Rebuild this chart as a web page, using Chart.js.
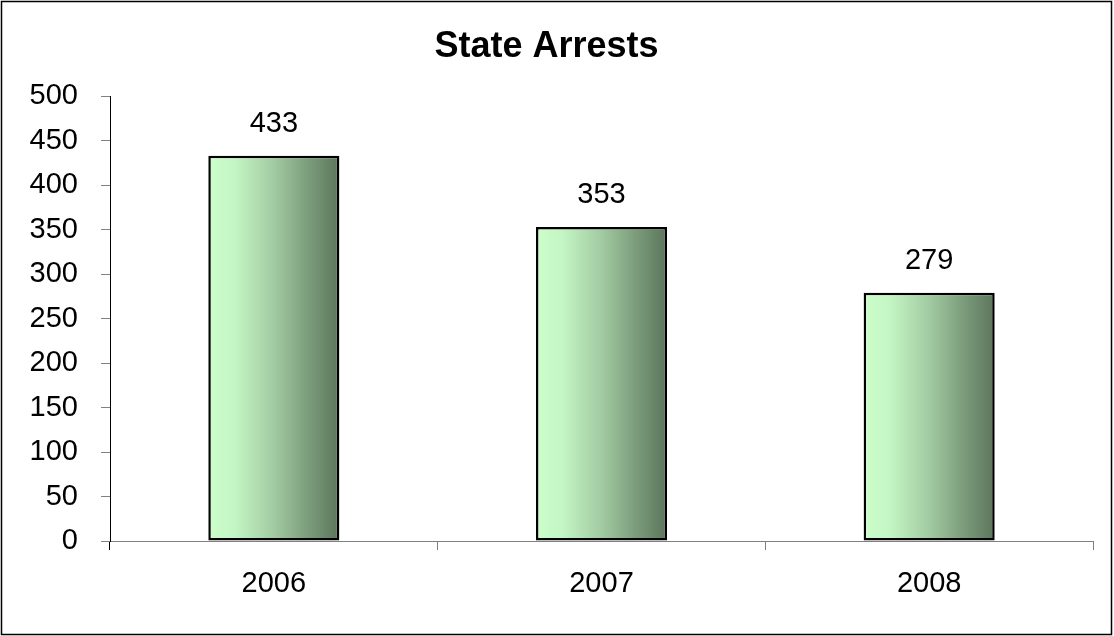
<!DOCTYPE html>
<html>
<head>
<meta charset="utf-8">
<title>State Arrests</title>
<script src="https://cdn.jsdelivr.net/npm/chart.js@4.4.1/dist/chart.umd.min.js"></script>
<style>
    html, body { margin: 0; padding: 0; background: #ffffff; }
    canvas { display: block; }
</style>
</head>
<body>
<canvas id="arrests-chart" width="1114" height="636"></canvas>
<script>
// Chart data
const years = ['2006', '2007', '2008'];
const arrests = [433, 353, 279];
const yTicks = [0, 50, 100, 150, 200, 250, 300, 350, 400, 450, 500];

const FONT = "Arial, 'Liberation Sans', sans-serif";
const BAR_SHARE = 0.4;

/**
 * Horizontal light-to-dark green gradient for each bar
 */
function barGradient(context) {
    const chart = context.chart;
    const xScale = chart.scales.x;
    if (!chart.chartArea || !xScale) {
        return '#a2cba2';
    }
    const center = xScale.getPixelForValue(context.dataIndex);
    const half = (xScale.width / years.length) * BAR_SHARE / 2;
    const g = chart.ctx.createLinearGradient(center - half, 0, center + half, 0);
    g.addColorStop(0, '#ccffcc');
    g.addColorStop(0.2, '#c4f5c4');
    g.addColorStop(0.5, '#a2cba2');
    g.addColorStop(0.75, '#7d9e7d');
    g.addColorStop(1, '#5c755c');
    return g;
}

// Value labels above bars + outer frame
const decorations = {
    id: 'decorations',
    afterDatasetsDraw(chart) {
        const ctx = chart.ctx;
        const meta = chart.getDatasetMeta(0);
        ctx.save();
        ctx.fillStyle = '#000000';
        ctx.font = '29px ' + FONT;
        ctx.textAlign = 'center';
        ctx.textBaseline = 'middle';
        meta.data.forEach((bar, i) => {
            ctx.fillText(String(arrests[i]), bar.x, bar.y - 32);
        });
        ctx.restore();
    },
    afterDraw(chart) {
        const ctx = chart.ctx;
        ctx.save();
        ctx.strokeStyle = '#000000';
        ctx.lineWidth = 1.5;
        ctx.strokeRect(1.5, 1.5, chart.width - 4, chart.height - 3);
        ctx.restore();
    }
};

new Chart(document.getElementById('arrests-chart'), {
    type: 'bar',
    data: {
        labels: years,
        datasets: [{
            label: 'State Arrests',
            data: arrests,
            backgroundColor: barGradient,
            borderColor: '#000000',
            borderWidth: 2.5,
            borderSkipped: false,
            categoryPercentage: 1,
            barPercentage: BAR_SHARE
        }]
    },
    options: {
        responsive: false,
        animation: false,
        devicePixelRatio: 1,
        layout: {
            padding: { left: 0, right: 21, top: 0, bottom: 0 }
        },
        plugins: {
            legend: { display: false },
            tooltip: { enabled: false },
            title: {
                display: true,
                text: 'State Arrests',
                color: '#000000',
                font: { family: FONT, size: 36, weight: 'bold', lineHeight: 1.2 },
                padding: { top: 25, bottom: 28 }
            }
        },
        scales: {
            x: {
                offset: true,
                border: { display: true, color: '#808080', width: 1 },
                grid: {
                    offset: true,
                    drawOnChartArea: false,
                    drawTicks: true,
                    tickLength: 9,
                    color: (c) => c.index === 0 ? '#000000' : '#808080'
                },
                ticks: {
                    color: '#000000',
                    padding: 17,
                    font: { family: FONT, size: 29 }
                },
                afterFit(scale) {
                    scale.height = 95;
                }
            },
            y: {
                min: 0,
                max: 500,
                border: { display: true, color: '#000000', width: 1 },
                grid: {
                    drawOnChartArea: false,
                    drawTicks: true,
                    tickLength: 9,
                    color: '#808080'
                },
                afterBuildTicks(scale) {
                    scale.ticks = yTicks.map(v => ({ value: v }));
                },
                ticks: {
                    color: '#000000',
                    padding: 23,
                    font: { family: FONT, size: 29 }
                },
                afterFit(scale) {
                    scale.width = 110;
                }
            }
        }
    },
    plugins: [decorations]
});
</script>
</body>
</html>
